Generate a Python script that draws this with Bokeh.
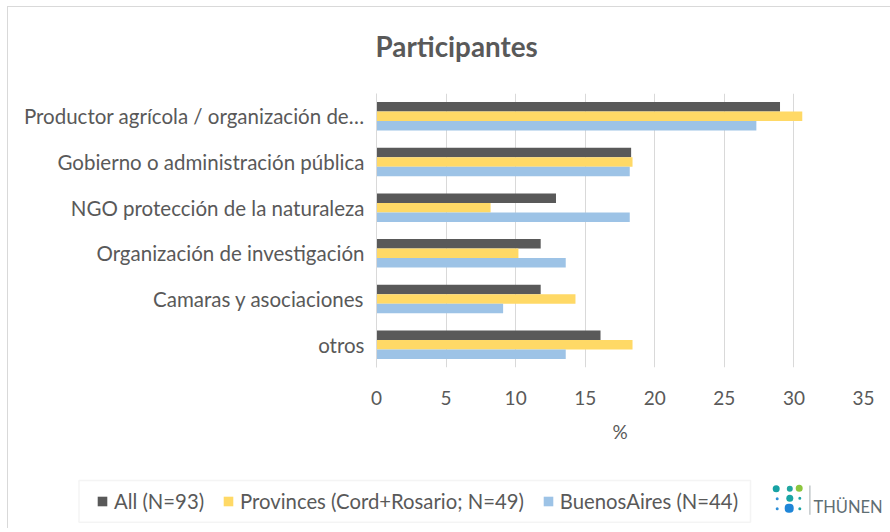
from bokeh.plotting import figure
from bokeh.models import (ColumnDataSource, FactorRange, Range1d, Legend, LegendItem,
                          Label, BoxAnnotation)
from bokeh.layouts import column
from bokeh.transform import dodge
from bokeh.embed import file_html
from bokeh.resources import INLINE

categories = [
    "Productor agrícola / organización de…",
    "Gobierno o administración pública",
    "NGO protección de la naturaleza",
    "Organización de investigación",
    "Camaras y asociaciones",
    "otros",
]
all_vals = [29.0, 18.3, 12.9, 11.8, 11.8, 16.1]
prov_vals = [30.6, 18.4, 8.2, 10.2, 14.3, 18.4]
ba_vals = [27.3, 18.2, 18.2, 13.6, 9.1, 13.6]
series_names = ["All (N=93)", "Provinces (Cord+Rosario; N=49)", "BuenosAires (N=44)"]
series_colors = ["#595959", "#FFD966", "#9DC3E6"]
x_ticks = [0, 5, 10, 15, 20, 25, 30, 35]
title_text = "Participantes"

FONT = "Lato"
TXT = "#595959"
GRID = "#d9d9d9"
W = 882


def strip(h):
    f = figure(width=W, height=h, x_range=Range1d(0, W), y_range=Range1d(0, h),
               x_axis_type=None, y_axis_type=None, output_backend="svg", toolbar_location=None,
               min_border_left=0, min_border_right=0, min_border_top=0, min_border_bottom=0)
    f.outline_line_color = None
    f.grid.visible = False
    f.background_fill_color = "white"
    f.border_fill_color = "white"
    return f


# ---------------- title strip ----------------
p0 = strip(60)
p0.add_layout(Label(x=367, y=21, text=title_text, text_font=FONT, text_font_size="27.8px",
                    text_font_style="bold", text_color=TXT,
                    text_align="left", text_baseline="middle"))

# ---------------- main chart ----------------
src = ColumnDataSource(dict(cat=categories, all=all_vals, prov=prov_vals, ba=ba_vals))
p = figure(
    width=W, height=410,
    y_range=FactorRange(*categories[::-1]),
    x_range=(0, 35),
    output_backend="svg", toolbar_location=None,
    min_border_left=368, min_border_top=26, min_border_right=27, min_border_bottom=110,
)
p.outline_line_color = None
p.background_fill_color = "white"
p.border_fill_color = "white"

bh = 0.208
p.hbar(y=dodge("cat", bh, range=p.y_range), right="all", left=0, height=bh,
       source=src, fill_color=series_colors[0], line_color=None)
p.hbar(y=dodge("cat", 0.0, range=p.y_range), right="prov", left=0, height=bh,
       source=src, fill_color=series_colors[1], line_color=None)
p.hbar(y=dodge("cat", -bh, range=p.y_range), right="ba", left=0, height=bh,
       source=src, fill_color=series_colors[2], line_color=None)

p.xaxis.ticker = x_ticks
p.xaxis.axis_line_color = None
p.xaxis.major_tick_line_color = None
p.xaxis.minor_tick_line_color = None
p.xaxis.major_label_text_font = FONT
p.xaxis.major_label_text_font_size = "19px"
p.xaxis.major_label_text_color = TXT
p.xaxis.major_label_standoff = 17
p.xaxis.axis_label = "%"
p.xaxis.axis_label_text_font = FONT
p.xaxis.axis_label_text_font_size = "19px"
p.xaxis.axis_label_text_font_style = "normal"
p.xaxis.axis_label_text_color = TXT
p.xaxis.axis_label_standoff = 12

p.yaxis.axis_line_color = GRID
p.yaxis.axis_line_width = 1
p.yaxis.major_tick_line_color = None
p.yaxis.minor_tick_line_color = None
p.yaxis.major_label_text_font = FONT
p.yaxis.major_label_text_font_size = "20.5px"
p.yaxis.major_label_text_color = TXT
p.yaxis.major_label_standoff = 6

p.xgrid.grid_line_color = GRID
p.xgrid.grid_line_width = 1
p.ygrid.grid_line_color = None

# ---------------- legend + logo strip ----------------
p2 = strip(51)
key_src = ColumnDataSource(dict(y=[-10], left=[0], right=[0]))
key_renderers = [p2.hbar(y="y", right="right", left="left", height=1, source=key_src,
                         fill_color=c, line_color=None) for c in series_colors]

p2.add_layout(BoxAnnotation(left=70.5, right=742, bottom=6.3, top=48,
                            fill_alpha=0, line_color=GRID, line_width=1.5))

legend = Legend(
    items=[LegendItem(label=n, renderers=[r]) for n, r in zip(series_names, key_renderers)],
    orientation="horizontal", location=(88, 15),
    label_text_font=FONT, label_text_font_size="20.3px", label_text_color=TXT,
    glyph_width=12, glyph_height=12, label_standoff=6, spacing=18, padding=8, margin=0,
    border_line_color=None, background_fill_alpha=0,
)
p2.add_layout(legend)

# Thünen logo
dots = [
    (767.7, 39.7, 7, "#17a2a4"), (781.3, 39.7, 6, "#22a6a0"), (790.7, 40.3, 7, "#8cc63e"),
    (768.7, 29.7, 3, "#2f8fd8"), (781.3, 30.3, 7, "#1aa5a5"), (791.3, 30.3, 3, "#1aa5a5"),
    (768.7, 19.7, 3, "#2f8fd8"), (780.7, 20.3, 9, "#1f86d8"), (791.3, 19.7, 3, "#1aa5a5"),
]
for cx, cy, d, c in dots:
    p2.add_layout(BoxAnnotation(left=cx - d / 2, right=cx + d / 2, bottom=cy - d / 2, top=cy + d / 2,
                                border_radius=int(round(d / 2)), fill_color=c, fill_alpha=1,
                                line_color=None))
p2.add_layout(BoxAnnotation(left=800.8, right=802, bottom=13.7, top=43,
                            fill_color="#b3bbbe", fill_alpha=1, line_color=None))
p2.add_layout(Label(x=805, y=22, text="THÜNEN", text_font=FONT, text_font_size="16.5px",
                    text_color="#5f6e73", text_align="left", text_baseline="middle"))

layout = column(column(p0), p, column(p2), spacing=0,
                styles={"margin-left": "7px", "margin-top": "6px",
                        "border-left": "1px solid #d9d9d9", "border-top": "1px solid #d9d9d9"})
open("out.html", "w").write(file_html(layout, INLINE))
